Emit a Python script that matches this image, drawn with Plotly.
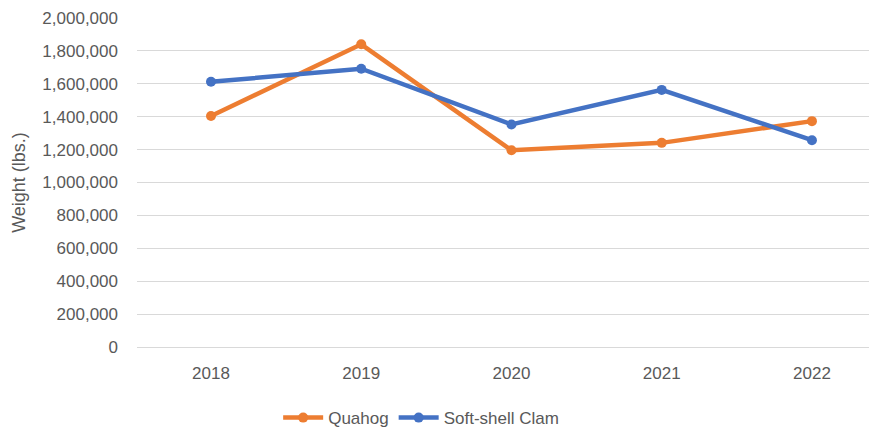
import plotly.graph_objects as go

years = ["2018", "2019", "2020", "2021", "2022"]
quahog = [1404000, 1840000, 1196000, 1241000, 1373000]
softshell = [1612000, 1692000, 1353000, 1563000, 1257000]
y_ticks = [0, 200000, 400000, 600000, 800000, 1000000, 1200000, 1400000, 1600000, 1800000, 2000000]

font_family = "Liberation Sans, Arial, sans-serif"
text_color = "#595959"

# page has an 8px body margin, so the figure is sized/offset to compensate
fig = go.Figure()
fig.add_trace(go.Scatter(x=years, y=quahog, name="Quahog", mode="lines+markers",
                         line=dict(color="#ED7D31", width=4.5),
                         marker=dict(size=10, color="#ED7D31")))
fig.add_trace(go.Scatter(x=years, y=softshell, name="Soft-shell Clam", mode="lines+markers",
                         line=dict(color="#4472C4", width=4.5),
                         marker=dict(size=10, color="#4472C4")))

fig.update_layout(
    width=869, height=423,
    margin=dict(l=129, r=0, t=10, b=84, autoexpand=False),
    paper_bgcolor="white", plot_bgcolor="white",
    font=dict(family=font_family, size=17, color=text_color),
    showlegend=True,
    legend=dict(orientation="h", x=0.384, y=-0.216, xanchor="center", yanchor="middle",
                font=dict(size=17, color=text_color), itemwidth=40),
    xaxis=dict(type="category", range=[-0.4925, 4.433], showgrid=False, showline=False,
               zeroline=False, ticks="", ticklabelstandoff=14,
               tickfont=dict(size=17, color=text_color)),
    yaxis=dict(range=[0, 2000000], tickvals=y_ticks, tickformat=",d",
               showgrid=True, gridcolor="#D9D9D9", gridwidth=1,
               zeroline=True, zerolinecolor="#D9D9D9", zerolinewidth=1,
               showline=False, ticks="", ticklabelstandoff=18,
               tickfont=dict(size=17, color=text_color),
               title=dict(text="Weight (lbs.)", font=dict(size=18, color=text_color), standoff=12)),
)

fig.write_html("out.html")
